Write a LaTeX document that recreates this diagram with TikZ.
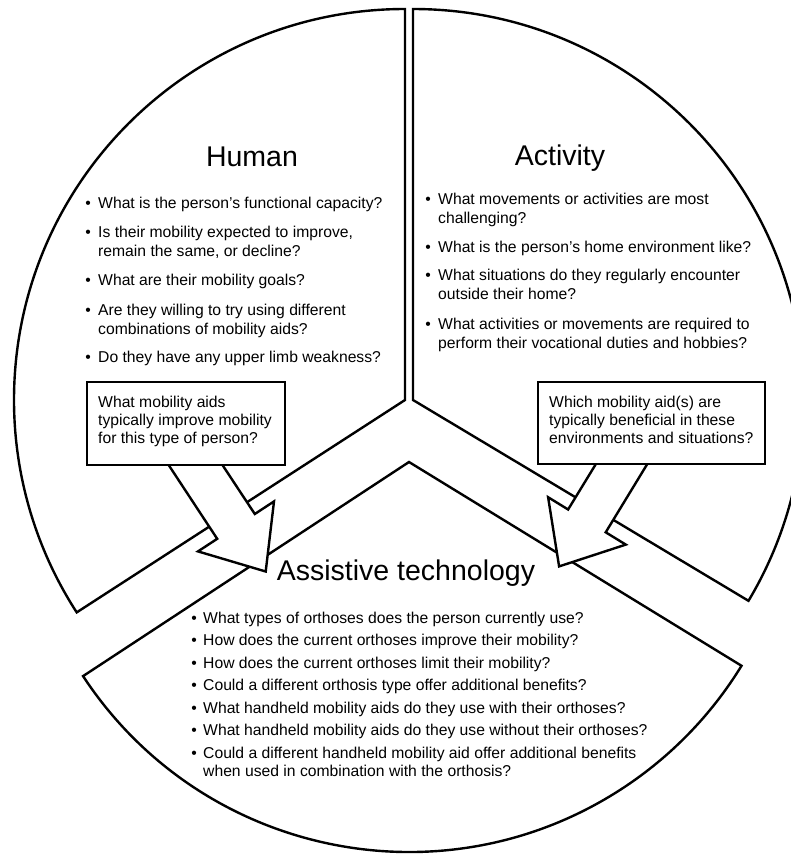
\documentclass[tikz,border=0pt]{standalone}
\usepackage{fontspec}
\setmainfont{Liberation Sans}
\begin{document}
\begin{tikzpicture}[x=1pt,y=1pt,yscale=-1,
  sector/.style={draw=black, fill=white, line width=2.4pt, line join=miter},
  blockarrow/.style={draw=black, fill=white, line width=2.4pt, line join=miter},
  qbox/.style={draw=black, fill=white, line width=2.4pt, rectangle, inner sep=0pt, anchor=north west},
  txt/.style={font=\fontsize{15.7}{18}\selectfont, inner sep=0pt, anchor=base west},
  bul/.style={font=\fontsize{15.7}{18}\selectfont, inner sep=0pt, anchor=base},
  ttl/.style={font=\fontsize{28.5}{32}\selectfont, inner sep=0pt, anchor=base}]
\useasboundingbox (0,0) rectangle (791,854);
\clip (0,0) rectangle (791,854);
\fill[white] (0,0) rectangle (791,854);

% sectors (exploded pie)
\coordinate (hc) at (405,400);
\coordinate (ac) at (413,400);
\coordinate (tc) at (409,462);
\draw[sector] (hc) -- ++(270:391) arc[start angle=270, end angle=147.1, radius=391] -- cycle;
\draw[sector] (ac) -- ++(270:391) arc[start angle=270, end angle=390.9, radius=391] -- cycle;
\draw[sector] (tc) -- ++(146.7:390) arc[start angle=146.7, end angle=31.5, radius=390] -- cycle;

% block arrows
\draw[blockarrow] (168,464) -- (217.2,538.8) -- (198,551.4) -- (265.7,571.5) -- (274,501.4) -- (254.8,514) -- (221.8,464) -- cycle;
\draw[blockarrow] (596.5,463) -- (568.1,509.5) -- (548.1,497.2) -- (559.1,566.4) -- (625.8,544.6) -- (605.7,532.3) -- (647.9,463) -- cycle;

% boxes
\node[qbox, minimum width=198pt, minimum height=83pt] (hbox) at (86,381) {};
\node[qbox, minimum width=227pt, minimum height=82pt] (abox) at (537,381) {};

% titles
\node[ttl] (human) at (252,166.5) {Human};
\node[ttl] (activity) at (560,165.5) {Activity};
\node[ttl] (assist) at (406,580) {Assistive technology};

% Human bullets
\node[bul] (hb1) at (88,208.5) {•};
\node[txt] (ht1) at (98,208.5) {What is the person’s functional capacity?};
\node[bul] (hb2) at (88,237) {•};
\node[txt] (ht2a) at (98,237) {Is their mobility expected to improve,};
\node[txt] (ht2b) at (98,256) {remain the same, or decline?};
\node[bul] (hb3) at (88,285) {•};
\node[txt] (ht3) at (98,285) {What are their mobility goals?};
\node[bul] (hb4) at (88,315) {•};
\node[txt] (ht4a) at (98,315) {Are they willing to try using different};
\node[txt] (ht4b) at (98,334) {combinations of mobility aids?};
\node[bul] (hb5) at (88,362) {•};
\node[txt] (ht5) at (98,362) {Do they have any upper limb weakness?};

% Human box text
\node[txt] (hq1) at (98,407) {What mobility aids};
\node[txt] (hq2) at (98,425) {typically improve mobility};
\node[txt] (hq3) at (98,443) {for this type of person?};

% Activity bullets
\node[bul] (ab1) at (428,204) {•};
\node[txt] (at1a) at (438,204) {What movements or activities are most};
\node[txt] (at1b) at (438,223) {challenging?};
\node[bul] (ab2) at (428,252) {•};
\node[txt] (at2) at (438,252) {What is the person’s home environment like?};
\node[bul] (ab3) at (428,280.5) {•};
\node[txt] (at3a) at (438,280.5) {What situations do they regularly encounter};
\node[txt] (at3b) at (438,299.5) {outside their home?};
\node[bul] (ab4) at (428,329) {•};
\node[txt] (at4a) at (438,329) {What activities or movements are required to};
\node[txt] (at4b) at (438,348) {perform their vocational duties and hobbies?};

% Activity box text
\node[txt] (aq1) at (549,407) {Which mobility aid(s) are};
\node[txt] (aq2) at (549,425) {typically beneficial in these};
\node[txt] (aq3) at (549,443) {environments and situations?};

% Assistive technology bullets
\node[bul] (tb1) at (194,623) {•};
\node[txt] (tt1) at (203,623) {What types of orthoses does the person currently use?};
\node[bul] (tb2) at (194,645.5) {•};
\node[txt] (tt2) at (203,645.5) {How does the current orthoses improve their mobility?};
\node[bul] (tb3) at (194,668) {•};
\node[txt] (tt3) at (203,668) {How does the current orthoses limit their mobility?};
\node[bul] (tb4) at (194,690.5) {•};
\node[txt] (tt4) at (203,690.5) {Could a different orthosis type offer additional benefits?};
\node[bul] (tb5) at (194,713) {•};
\node[txt] (tt5) at (203,713) {What handheld mobility aids do they use with their orthoses?};
\node[bul] (tb6) at (194,735.5) {•};
\node[txt] (tt6) at (203,735.5) {What handheld mobility aids do they use without their orthoses?};
\node[bul] (tb7) at (194,758) {•};
\node[txt] (tt7a) at (203,758) {Could a different handheld mobility aid offer additional benefits};
\node[txt] (tt7b) at (203,776) {when used in combination with the orthosis?};
\end{tikzpicture}
\end{document}
